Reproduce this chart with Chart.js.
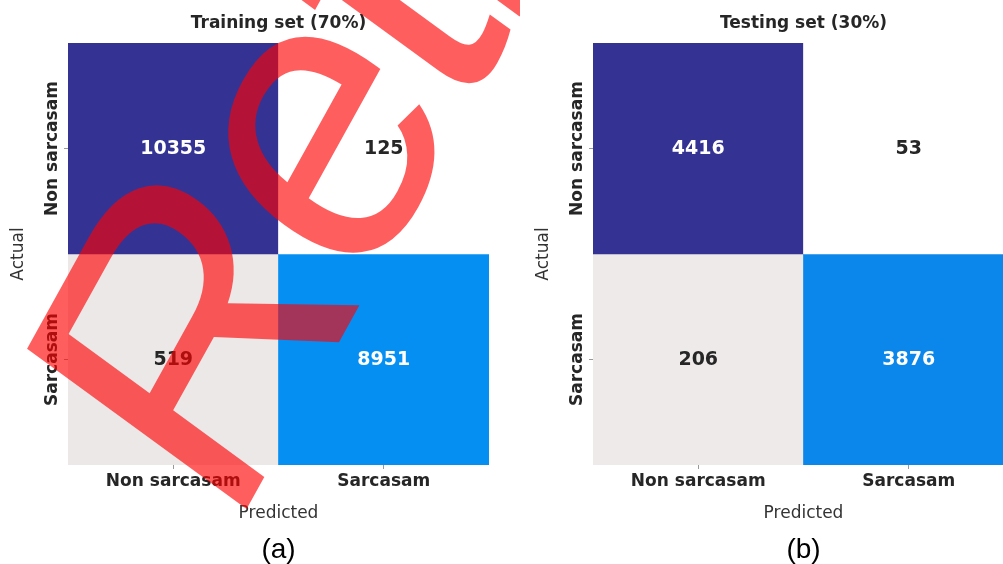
<!DOCTYPE html>
<html><head><meta charset="utf-8">
<script src="https://cdn.jsdelivr.net/npm/chart.js@4.4.1/dist/chart.umd.min.js"></script>
<style>
html,body{margin:0;padding:0;background:#fff;overflow:hidden;width:1003px;height:564px;}
#wrap{position:relative;width:1003px;height:564px;overflow:hidden;background:#fff;}
#c1{position:absolute;left:0;top:0;}
#c2{position:absolute;left:520px;top:0;}
</style></head><body>
<div id="wrap">
<canvas id="c2" width="520" height="564"></canvas>
<canvas id="c1" width="520" height="564"></canvas>
</div>
<script>
// ---- data ----
const predictedLabels = ['Non sarcasam', 'Sarcasam'];
const actualLabels = ['Non sarcasam', 'Sarcasam'];
const trainNonSarcasam = [10355, 125];
const trainSarcasam = [519, 8951];
const testNonSarcasam = [4416, 53];
const testSarcasam = [206, 3876];
const panelTitles = ['Training set (70%)', 'Testing set (30%)'];
const panelCaptions = ['(a)', '(b)'];
const xAxisTitle = 'Predicted';
const yAxisTitle = 'Actual';
const watermarkText = 'Retracted';

// ---- colormap ----
const cmapStops = [[0, [255,255,255]], [0.04, [236,231,231]], [0.85, [2,152,252]], [1, [52,51,148]]];
function cmap(t) {
  t = Math.max(0, Math.min(1, t));
  for (let i = 1; i < cmapStops.length; i++) {
    const [t1, c1] = cmapStops[i];
    const [t0, c0] = cmapStops[i-1];
    if (t <= t1) {
      const f = (t - t0) / (t1 - t0);
      const c = c0.map((v, k) => Math.round(v + f * (c1[k] - v)));
      return `rgb(${c[0]},${c[1]},${c[2]})`;
    }
  }
  const c = cmapStops[cmapStops.length-1][1];
  return `rgb(${c[0]},${c[1]},${c[2]})`;
}

const FONT = 'DejaVu Sans';
const TEXT = '#262626';

const cellText = {
  id: 'cellText',
  afterDatasetsDraw(chart) {
    const ctx = chart.ctx;
    ctx.save();
    chart.data.datasets.forEach((ds, di) => {
      const meta = chart.getDatasetMeta(di);
      meta.data.forEach((el, i) => {
        const p = el.getProps(['x', 'y', 'base'], true);
        ctx.fillStyle = ds.textColors[i];
        ctx.font = `bold 19px "${FONT}"`;
        ctx.textAlign = 'center';
        ctx.textBaseline = 'middle';
        ctx.fillText(String(ds.values[i]), p.x, (p.y + p.base) / 2 + 1);
      });
    });
    // rotated y tick labels
    const ys = chart.scales.y;
    ctx.fillStyle = TEXT;
    ctx.font = `bold 17px "${FONT}"`;
    ctx.textAlign = 'center';
    ctx.textBaseline = 'alphabetic';
    actualLabels.forEach((lab, r) => {
      const py = ys.getPixelForValue(actualLabels.length - 0.5 - r);
      ctx.save();
      ctx.translate(chart.chartArea.left - 11, py);
      ctx.rotate(-Math.PI / 2);
      ctx.fillText(lab, 0, 0);
      ctx.restore();
    });
    ctx.restore();
  }
};

const watermark = {
  id: 'watermark',
  afterDraw(chart, args, opts) {
    if (!opts.show) return;
    const ctx = chart.ctx;
    ctx.save();
    ctx.translate(231, 537);
    ctx.rotate(-61 * Math.PI / 180);
    ctx.transform(1, 0, -0.125, 1, 0, 0);
    ctx.font = '392px "Liberation Sans"';
    try { ctx.letterSpacing = '-14px'; } catch (e) {}
    ctx.fillStyle = 'rgba(255,0,0,0.63)';
    ctx.textAlign = 'left';
    ctx.textBaseline = 'alphabetic';
    ctx.fillText(watermarkText, 0, 0);
    ctx.restore();
  }
};

function makePanel(canvasId, rows, title, caption, layoutCfg) {
  const all = rows.flat();
  const vmin = Math.min(...all), vmax = Math.max(...all);
  const nR = rows.length;
  const datasets = rows.map((vals, r) => {
    const ts = vals.map(v => (v - vmin) / (vmax - vmin));
    return {
      label: actualLabels[r],
      data: vals.map(() => [nR - 1 - r, nR - r]),
      values: vals,
      backgroundColor: ts.map(cmap),
      textColors: ts.map(t => t > 0.5 ? '#ffffff' : TEXT),
      borderWidth: 0,
      barPercentage: 1,
      categoryPercentage: 1,
      grouped: false
    };
  });
  const gridCfg = { display: true, offset: false, drawOnChartArea: false, drawTicks: true, tickLength: 4, color: '#999', tickColor: '#999' };
  return new Chart(document.getElementById(canvasId), {
    type: 'bar',
    data: { labels: predictedLabels, datasets },
    options: {
      responsive: false,
      animation: false,
      layout: { padding: { left: 0, right: layoutCfg.padRight, top: 0, bottom: 0 } },
      plugins: {
        legend: { display: false },
        tooltip: { enabled: false },
        title: { display: true, text: title, fullSize: false, color: TEXT,
                 font: { family: FONT, size: 17, weight: 'bold', lineHeight: 1.2 },
                 padding: { top: 13, bottom: 9.6 } },
        subtitle: { display: true, text: caption, position: 'bottom', fullSize: false, color: '#000',
                    font: { family: 'Liberation Sans', size: 28, lineHeight: 1 }, padding: 0 },
        watermark: { show: !!layoutCfg.watermark }
      },
      scales: {
        x: {
          type: 'category', offset: true,
          grid: gridCfg, border: { display: false },
          ticks: { color: TEXT, font: { family: FONT, size: 17, weight: 'bold' }, padding: 2, maxRotation: 0, minRotation: 0, autoSkip: false },
          title: { display: true, text: xAxisTitle, color: '#333', font: { family: FONT, size: 17 }, padding: { top: 4, bottom: 12 } },
          afterFit(s) { s.height = 71; }
        },
        y: {
          type: 'linear', min: 0, max: nR,
          afterBuildTicks(s) { s.ticks = actualLabels.map((_, r) => ({ value: nR - 0.5 - r })); },
          grid: gridCfg, border: { display: false },
          ticks: { display: false },
          title: { display: true, text: yAxisTitle, color: '#333', font: { family: FONT, size: 17 }, padding: { top: layoutCfg.yTitlePad, bottom: 0 } },
          afterFit(s) { s.width = layoutCfg.yWidth; }
        }
      }
    },
    plugins: [cellText, watermark]
  });
}

makePanel('c1', [trainNonSarcasam, trainSarcasam], panelTitles[0], panelCaptions[0], { padRight: 31, yWidth: 68, yTitlePad: 8, watermark: true });
makePanel('c2', [testNonSarcasam, testSarcasam], panelTitles[1], panelCaptions[1], { padRight: 26, yWidth: 73, yTitlePad: 13, watermark: false });
</script>
</body></html>
